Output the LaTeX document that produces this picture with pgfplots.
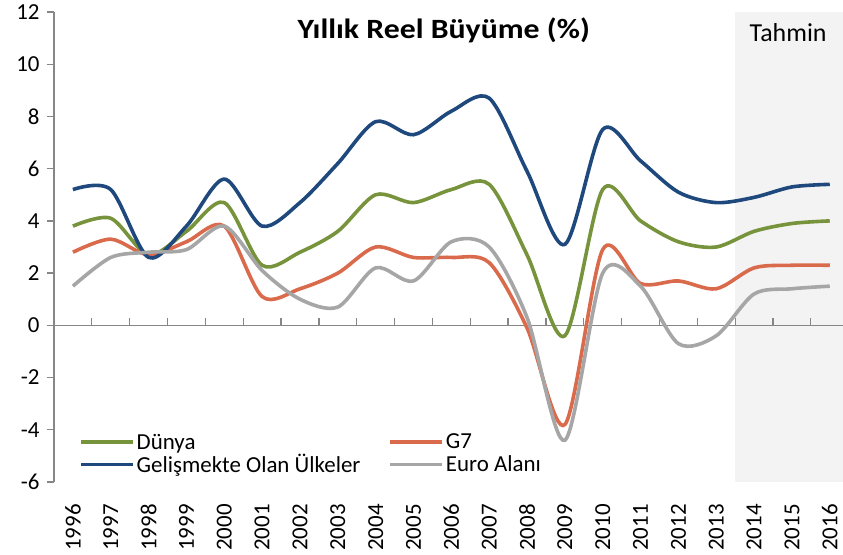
\documentclass[border=0pt]{standalone}
\usepackage{pgfplots}
\usepackage{pgfplotstable}
\pgfplotsset{compat=1.18}
\usepackage{fontspec}
\setmainfont{Carlito}
\newfontfamily\titlefont[FakeStretch=1.14]{Carlito}
\definecolor{cgreen}{RGB}{119,147,60}
\definecolor{cred}{RGB}{218,106,76}
\definecolor{cblue}{RGB}{31,73,125}
\definecolor{cgrey}{RGB}{166,166,166}
\definecolor{cshade}{RGB}{243,243,243}
\definecolor{axgray}{RGB}{134,134,134}
\pgfplotstableread{
x year dunya g7 gel euro
0 1996 3.8 2.8 5.2 1.5
1 1997 4.1 3.3 5.2 2.6
2 1998 2.7 2.7 2.6 2.8
3 1999 3.6 3.2 3.8 2.9
4 2000 4.7 3.8 5.6 3.8
5 2001 2.3 1.1 3.8 2.1
6 2002 2.8 1.4 4.7 1.0
7 2003 3.6 2.0 6.2 0.7
8 2004 5.0 3.0 7.8 2.2
9 2005 4.7 2.6 7.3 1.7
10 2006 5.2 2.6 8.2 3.2
11 2007 5.4 2.4 8.7 3.0
12 2008 2.7 -0.1 5.9 0.3
13 2009 -0.4 -3.8 3.1 -4.4
14 2010 5.2 2.9 7.5 2.0
15 2011 4.0 1.6 6.3 1.5
16 2012 3.2 1.7 5.1 -0.7
17 2013 3.0 1.4 4.7 -0.4
18 2014 3.6 2.2 4.9 1.2
19 2015 3.9 2.3 5.3 1.4
20 2016 4.0 2.3 5.4 1.5
}\data
\begin{document}
\begin{tikzpicture}
\begin{axis}[
  scale only axis, width=789bp, height=470bp,
  xmin=-0.5, xmax=20.35, ymin=-6, ymax=12,
  axis y line*=left, axis x line*=bottom,
  x axis line style={draw=none},
  y axis line style={axgray, line width=1.3bp},
  xtick={0,...,20},
  xticklabels={1996,1997,1998,1999,2000,2001,2002,2003,2004,2005,2006,2007,2008,2009,2010,2011,2012,2013,2014,2015,2016},
  ytick={-6,-4,...,12},
  x tick style={draw=none},
  y tick style={axgray, line width=1.3bp},
  tick align=outside, major tick length=7bp,
  /pgf/number format/assume math mode=true,
  tick label style={font=\fontsize{23}{27}\selectfont, text=black},
  xticklabel style={rotate=90, anchor=east, inner sep=1bp, xshift=-14bp},
  yticklabel style={xshift=-4bp},
  legend columns=2,
  legend cell align=left,
  legend style={draw=none, fill=none, font=\fontsize{23}{27}\selectfont,
    at={(axis cs:0.08,-4.0)}, anchor=north west,
    /tikz/every even column/.append style={column sep=26bp}},
  legend image code/.code={\draw[#1] (0bp,0bp) -- (52bp,0bp);},
  every axis plot/.append style={line width=3.6bp, smooth, no markers},
]
\fill[cshade] (axis cs:17.5,-6) rectangle (axis cs:20.35,12);
\draw[axgray, line width=1.3bp] (axis cs:-0.5,0) -- (axis cs:20.35,0);
\pgfplotsinvokeforeach{0,...,19}{\draw[axgray, line width=1.3bp] (axis cs:#1.5,0) -- (axis cs:#1.5,0.28);}
\addplot[cgreen] table[x=x,y=dunya]{\data};
\addlegendentry{Dünya}
\addplot[cred] table[x=x,y=g7]{\data};
\addlegendentry{G7}
\addplot[cblue] table[x=x,y=gel]{\data};
\addlegendentry{Gelişmekte Olan Ülkeler}
\addplot[cgrey] table[x=x,y=euro]{\data};
\addlegendentry{Euro Alanı}
\node[font=\titlefont\bfseries\fontsize{28}{32}\selectfont] at (axis cs:9.8,11.3) {Yıllık Reel Büyüme (\%)};
\node[font=\fontsize{26}{30}\selectfont] at (axis cs:18.9,11.2) {Tahmin};
\end{axis}
\pgfresetboundingbox
\path (current axis.south west) ++(-54bp,-73bp) rectangle ++(843bp,555bp);
\end{tikzpicture}
\end{document}
